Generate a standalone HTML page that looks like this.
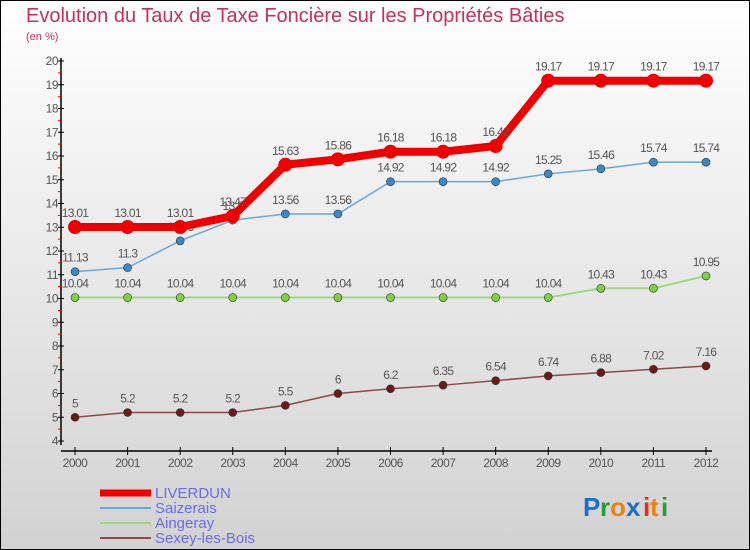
<!DOCTYPE html>
<html><head><meta charset="utf-8"><style>
body{margin:0;}
svg{display:block;font-family:"Liberation Sans",sans-serif;}
</style></head><body>
<svg id="chart" width="750" height="550" xmlns="http://www.w3.org/2000/svg">
<defs><linearGradient id="bg" x1="0" y1="0" x2="0" y2="1"><stop offset="0" stop-color="#ffffff"/><stop offset="1" stop-color="#d2d2d2"/></linearGradient></defs>
<rect x="0.5" y="0.5" width="749" height="549" fill="url(#bg)" stroke="#000"/>
<text x="26" y="22" font-size="20" fill="#c8305a">Evolution du Taux de Taxe Foncière sur les Propriétés Bâties</text>
<text x="26" y="40" font-size="11" fill="#c8305a">(en %)</text>
<g id="axes"></g>
<g id="series"></g>
<g id="legend"></g>
<g font-size="26" font-weight="bold" font-family="'Liberation Sans',sans-serif">
<text x="583" y="516" fill="#1a70c8">P</text><text x="600" y="516" fill="#2a9a3a">r</text><text x="610" y="516" fill="#f08010">o</text><text x="626" y="516" fill="#1a70c8">x</text><text x="643" y="516" fill="#e03010">i</text><text x="650" y="516" fill="#f08010">t</text><text x="661" y="516" fill="#2a9a3a">i</text>
</g>
</svg>
<script>
const years=[2000,2001,2002,2003,2004,2005,2006,2007,2008,2009,2010,2011,2012];
const liverdun=[13.01,13.01,13.01,13.47,15.63,15.86,16.18,16.18,16.42,19.17,19.17,19.17,19.17];
const saizerais=[11.13,11.3,12.43,13.3,13.56,13.56,14.92,14.92,14.92,15.25,15.46,15.74,15.74];
const aingeray=[10.04,10.04,10.04,10.04,10.04,10.04,10.04,10.04,10.04,10.04,10.43,10.43,10.95];
const sexey=[5,5.2,5.2,5.2,5.5,6,6.2,6.35,6.54,6.74,6.88,7.02,7.16];
const yTicks=[4,5,6,7,8,9,10,11,12,13,14,15,16,17,18,19,20];
const NS="http://www.w3.org/2000/svg";
const X=i=>75+i*(706-75)/(years.length-1);
const Y=v=>441-(v-4)*(441-61)/16;
function mk(tag,attrs,parent,txt){const e=document.createElementNS(NS,tag);for(const k in attrs)e.setAttribute(k,attrs[k]);if(txt!==undefined)e.textContent=txt;parent.appendChild(e);return e;}
const ax=document.getElementById('axes');
let e=mk('line',{x1:61,y1:58,x2:61,y2:445,stroke:'#000','stroke-width':1.5},ax);


e=mk('line',{x1:61,y1:451,x2:712,y2:451,stroke:'#000','stroke-width':1.5},ax);


yTicks.forEach(v=>{
 mk('line',{x1:58,y1:Y(v),x2:64,y2:Y(v),stroke:'#000'},ax);
 if(v<20)mk('line',{x1:58,y1:Y(v+0.5),x2:61,y2:Y(v+0.5),stroke:'#f00'},ax);
 e=mk('text',{x:58,y:Y(v)+4,'font-size':12,fill:'#555','text-anchor':'end','letter-spacing':'-0.5'},ax,v);
 
 
});
years.forEach((y,i)=>{
 mk('line',{x1:X(i),y1:447,x2:X(i),y2:455,stroke:'#000'},ax);
 e=mk('text',{x:X(i),y:467,'font-size':12,fill:'#555','text-anchor':'middle','letter-spacing':'-0.5'},ax,y);
 
 
});
const sg=document.getElementById('series');
function series(vals,color,lw,r,dot,name){
 const g=mk('g',{},sg);
 
 
 mk('polyline',{points:vals.map((v,i)=>X(i)+','+Y(v)).join(' '),fill:'none',stroke:color,'stroke-width':lw,'stroke-linejoin':'round'},g);
 vals.forEach((v,i)=>{
  const c=mk('circle',{cx:X(i),cy:Y(v),r:r,fill:dot,stroke:'#333','stroke-width':r>5?0:0.6},g);
  
  
  const t=mk('text',{x:X(i),y:Y(v)-10,'font-size':12,fill:'#555','text-anchor':'middle','letter-spacing':'-0.7'},g,String(v));
  
  
 });
}
series(sexey,'#8a4a4a',1.5,4,'#6a1a1a','sexey-les-bois');
series(aingeray,'#a0d880',2,4,'#80d040','aingeray');
series(saizerais,'#6aa8d8',1.5,4,'#3a88c8','saizerais');
series(liverdun,'#ee0000',8,7,'#ee0000','liverdun');
const lg=document.getElementById('legend');
const leg=[['LIVERDUN','#ee0000',7],['Saizerais','#6aa8d8',2],['Aingeray','#a0d880',2],['Sexey-les-Bois','#8a4a4a',2]];
leg.forEach((d,i)=>{
 const y=493+i*15;
 const g=mk('g',{},lg);
 
 
 mk('line',{x1:100,y1:y,x2:151,y2:y,stroke:d[1],'stroke-width':d[2]},g);
 mk('text',{x:155,y:y+5,'font-size':15,fill:'#6a6aee'},g,d[0]);
});
</script>
</body></html>
